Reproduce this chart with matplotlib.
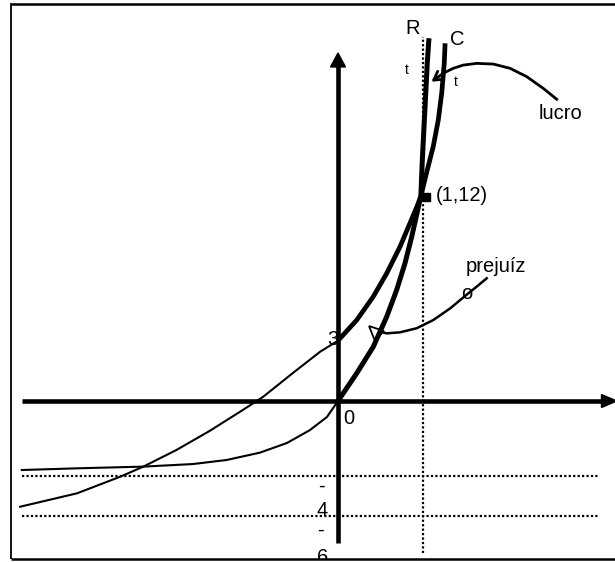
import matplotlib
matplotlib.use("Agg")
import matplotlib.pyplot as plt
from matplotlib.patches import Polygon, Rectangle

plt.rcParams['font.family'] = ['Liberation Sans', 'DejaVu Sans']

# curves (x: 1 unit = the point x=1, y: same units as 12)
r_thin_x = [-3.72, -3.07, -2.29, -1.71, -1.31, -0.92, -0.60, -0.33, -0.13, 0.0]
r_thin_y = [-4.06, -3.96, -3.86, -3.71, -3.47, -3.04, -2.47, -1.71, -0.94, 0.0]
r_thick_x = [0.0, 0.22, 0.415, 0.573, 0.69, 0.788, 0.867, 0.925, 0.975,
             0.99, 1.01, 1.03, 1.05, 1.07]
r_thick_y = [0.0, 1.63, 3.19, 4.96, 6.53, 8.10, 9.66, 10.95, 12.05,
             13.98, 15.94, 17.9, 19.86, 21.34]

c_thin_x = [-3.74, -3.07, -2.56, -2.29, -1.90, -1.51, -1.12, -0.88, -0.53, -0.21, 0.0]
c_thin_y = [-6.22, -5.43, -4.45, -3.86, -2.88, -1.76, -0.53, 0.25, 1.65, 2.90, 3.55]
c_thick_x = [0.0, 0.22, 0.415, 0.573, 0.73, 0.85, 0.93, 0.975,
             1.04, 1.12, 1.18, 1.22, 1.25, 1.26]
c_thick_y = [3.55, 4.76, 6.14, 7.51, 9.08, 10.5, 11.45, 12.05,
             13.39, 14.96, 16.53, 18.1, 19.86, 21.04]

equilibrio = (1, 12)
asymptotes = [-4.41, -6.76]

# annotation arrows
lucro_x = [2.573, 2.415, 2.22, 2.024, 1.827, 1.632, 1.474, 1.356, 1.239]
lucro_y = [17.75, 18.39, 19.08, 19.57, 19.82, 19.86, 19.76, 19.57, 19.28]
prej_x = [1.75, 1.63, 1.51, 1.32, 1.12, 0.926, 0.73, 0.573, 0.54]
prej_y = [7.22, 6.72, 6.24, 5.45, 4.76, 4.28, 4.04, 3.98, 4.02]

fig = plt.figure(figsize=(6.15, 5.63), dpi=100)
ax = fig.add_axes([0, 0, 1, 1])
ax.set_xlim(-338 / 85, 277 / 85)
ax.set_ylim(-162 / 17, 401 / 17)
ax.axis('off')

k = 'black'
dot = (0, (1, 1))

# frame
ax.plot([-3.85, 3.4], [23.35, 23.35], color=k, lw=1.8, solid_capstyle='butt')
ax.plot([-3.85, -3.85], [-9.29, 23.35], color=k, lw=1.3)

# axes with arrows
ax.plot([-3.72, 3.11], [0, 0], color=k, lw=3.3, solid_capstyle='butt')
ax.add_patch(Polygon([[3.10, -0.38], [3.10, 0.38], [3.28, 0]], closed=True, color=k))
ax.plot([0, 0], [-8.35, 19.7], color=k, lw=3.3, solid_capstyle='butt')
ax.add_patch(Polygon([[-0.088, 19.65], [0.088, 19.65], [0, 20.47]], closed=True, color=k))

# dotted guides
for a in asymptotes:
    ax.plot([-3.72, 3.07], [a, a], color=k, lw=1.6, ls=dot)
ax.plot([equilibrio[0], equilibrio[0]], [-8.94, 21.41], color=k, lw=1.6, ls=dot)

# curves
ax.plot(r_thin_x, r_thin_y, color=k, lw=1.5)
ax.plot(c_thin_x, c_thin_y, color=k, lw=1.5)
ax.add_patch(Polygon([[0.365, 4.41], [0.54, 4.12], [0.435, 3.53]], closed=True,
                     fc='white', ec=k, lw=1.3, zorder=3))
ax.plot(r_thick_x, r_thick_y, color=k, lw=3.6, zorder=4, solid_capstyle='butt')
ax.plot(c_thick_x, c_thick_y, color=k, lw=3.4, zorder=4, solid_capstyle='butt')
ax.plot(equilibrio[0] + 0.03, equilibrio[1], marker='s', ms=6, color=k, zorder=5)

# arrows
ax.plot(lucro_x, lucro_y, color=k, lw=2.0)
ax.annotate('', xy=(1.10, 18.78), xytext=(lucro_x[-1], lucro_y[-1]),
            arrowprops=dict(arrowstyle='->,head_length=0.6,head_width=0.35', lw=2.0, color=k,
                            shrinkA=0, shrinkB=0))
ax.plot(prej_x, prej_y, color=k, lw=1.8, zorder=3)

# labels
fs = 14.5
ax.text(0.88, 21.94, 'R', fontsize=fs, ha='center', va='center')
ax.text(0.81, 19.47, 't', fontsize=10, ha='center', va='center')
ax.text(1.40, 21.24, 'C', fontsize=fs, ha='center', va='center')
ax.text(1.38, 18.76, 't', fontsize=10, ha='center', va='center')
ax.text(2.62, 16.94, 'lucro', fontsize=fs, ha='center', va='center')
ax.text(1.15, 12.06, '(1,12)', fontsize=fs, ha='left', va='center')
ax.text(1.86, 7.94, 'prejuíz', fontsize=fs, ha='center', va='center')
ax.text(1.52, 6.35, 'o', fontsize=fs, ha='center', va='center')
ax.text(-0.06, 3.59, '3', fontsize=fs, ha='center', va='center')
ax.text(0.13, -1.0, '0', fontsize=fs, ha='center', va='center')
ax.text(-0.20, -5.0, '-', fontsize=fs, ha='center', va='center')
ax.text(-0.19, -6.47, '4', fontsize=fs, ha='center', va='center')
ax.text(-0.21, -7.59, '-', fontsize=fs, ha='center', va='center')
ax.text(-0.18, -9.18, '6', fontsize=fs, ha='center', va='center')

# bottom of frame hides the lower half of the "6"
ax.add_patch(Rectangle((-4.0, -10.0), 8.0, 0.71, fc='white', ec='none', zorder=6))
ax.plot([-3.85, 3.4], [-9.29, -9.29], color=k, lw=1.8, zorder=7, solid_capstyle='butt')

fig.savefig('out.png', dpi=100)
